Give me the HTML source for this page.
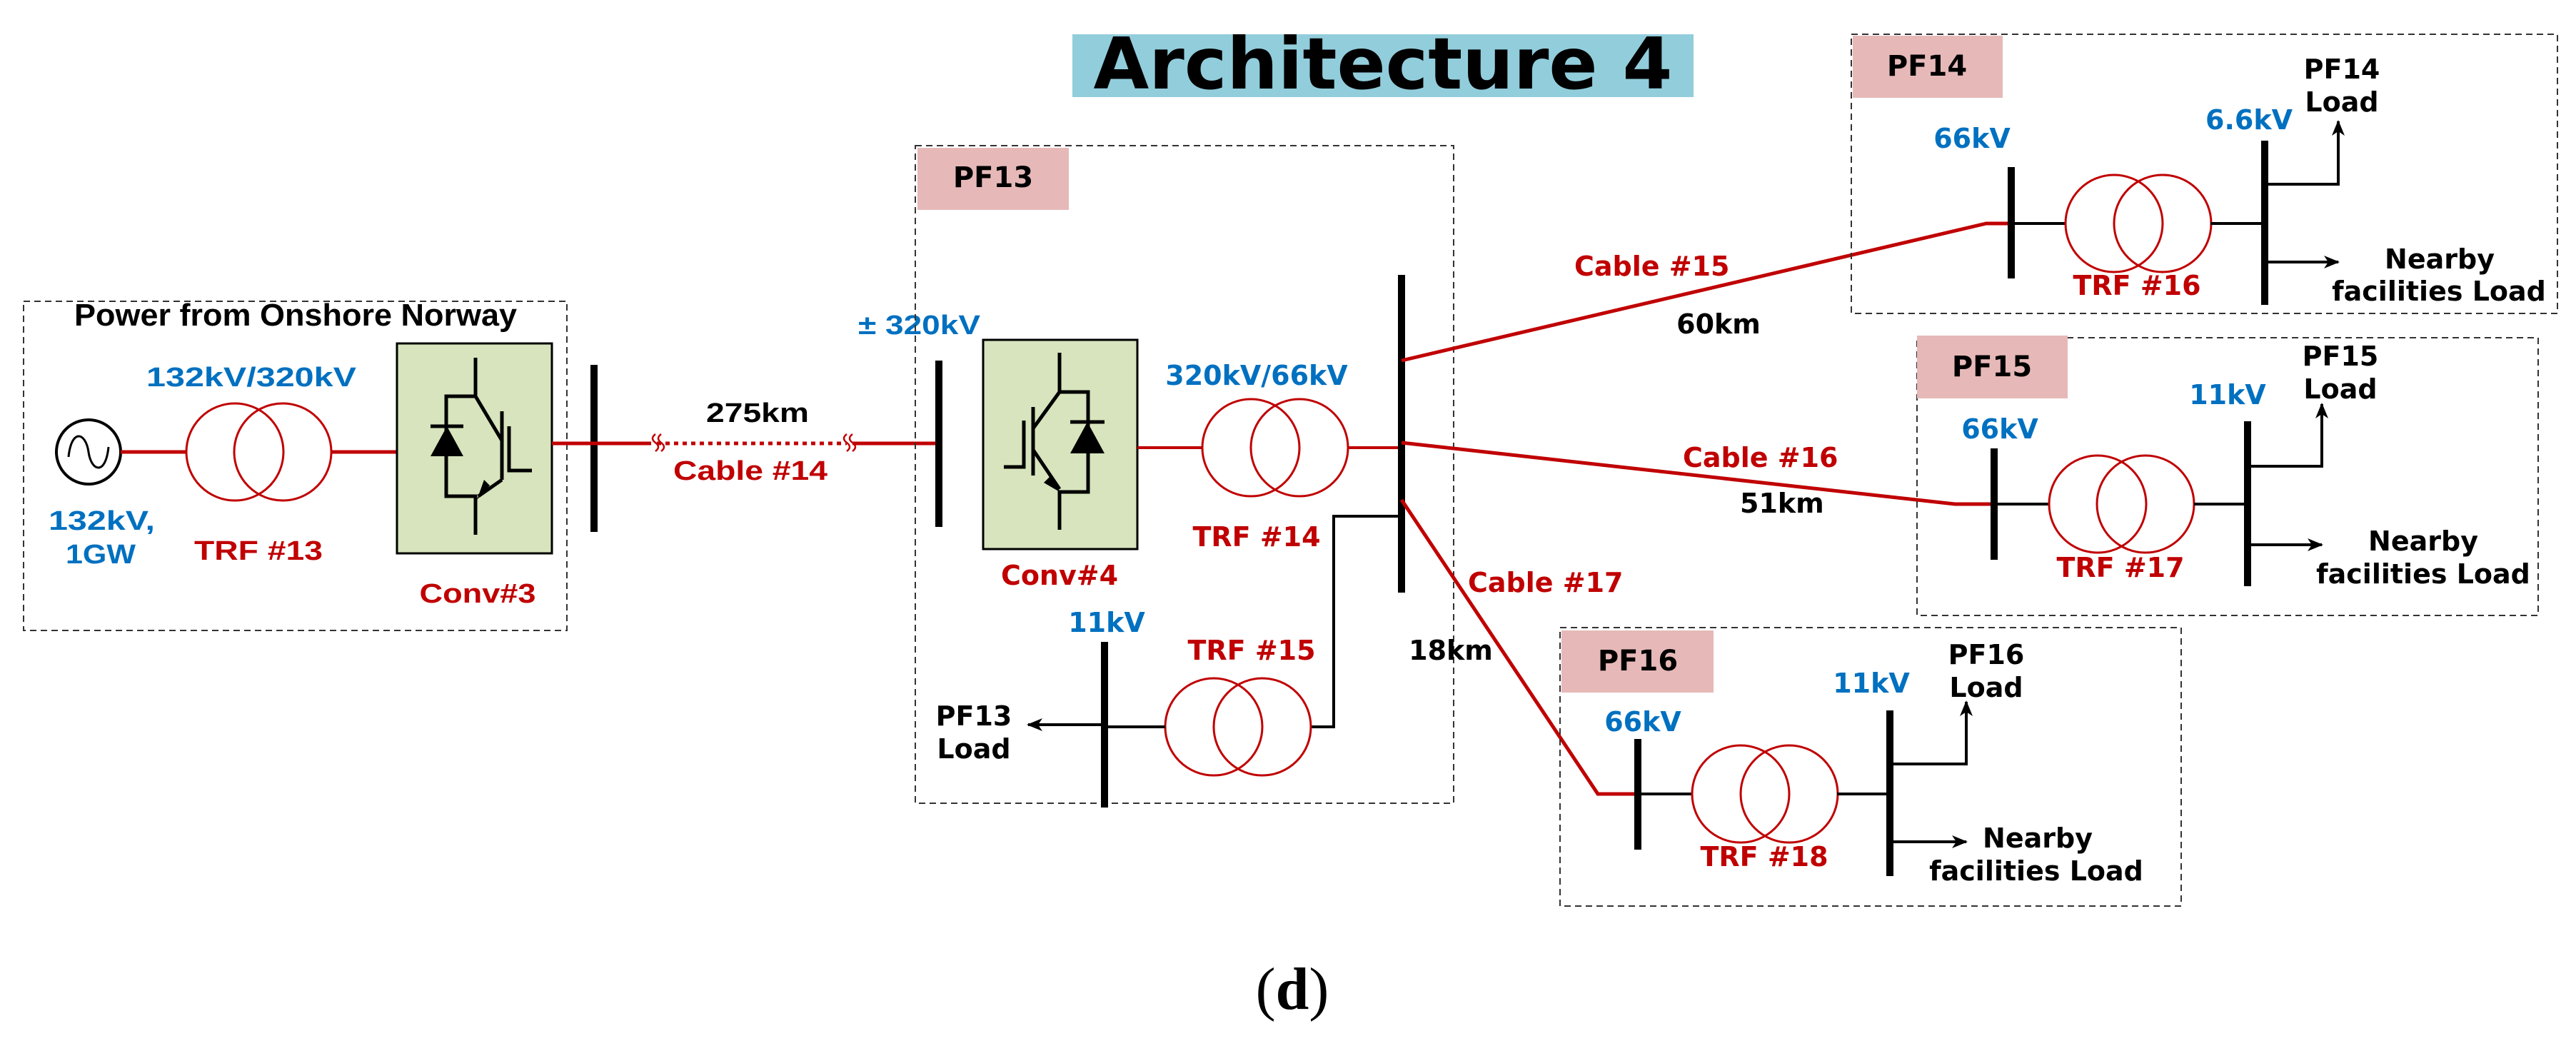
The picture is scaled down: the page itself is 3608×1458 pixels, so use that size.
<!DOCTYPE html>
<html><head><meta charset="utf-8"><style>html,body{margin:0;padding:0;background:#fff}svg{display:block}</style></head>
<body>
<svg width="3608" height="1458" viewBox="0 0 3608 1458" xmlns="http://www.w3.org/2000/svg">
<defs>
<marker id="ar" markerWidth="22" markerHeight="18" refX="20" refY="9" orient="auto" markerUnits="userSpaceOnUse">
<path d="M0,0 L22,9 L0,18 L6,9 z" fill="#000"/>
</marker>
</defs>
<style>
text{font-family:"DejaVu Sans","Liberation Sans",sans-serif;font-weight:bold}
.b{fill:#0070c0}.r{fill:#c00000}.k{fill:#000}
.t{font-family:"Liberation Sans",sans-serif}
</style>
<!-- Title -->
<rect x="1502" y="48" width="870" height="88" fill="#92cddc"/>
<text x="1937" y="124" font-size="100" text-anchor="middle" textLength="811" lengthAdjust="spacingAndGlyphs">Architecture 4</text>

<!-- Left box -->
<rect x="33" y="422" width="761" height="461" fill="none" stroke="#333" stroke-width="2" stroke-dasharray="9,6"/>
<text class="t k" x="414" y="456" font-size="44" text-anchor="middle" textLength="620" lengthAdjust="spacingAndGlyphs">Power from Onshore Norway</text>
<circle cx="124" cy="633" r="45" fill="none" stroke="#000" stroke-width="4"/>
<path d="M96,640 C100,600 120,605 124,633 C128,661 148,666 152,626" fill="none" stroke="#000" stroke-width="3"/>
<line x1="169" y1="633" x2="262" y2="633" stroke="#c00000" stroke-width="5"/>
<circle cx="329" cy="633" r="68" fill="none" stroke="#c00000" stroke-width="3"/>
<circle cx="396" cy="633" r="68" fill="none" stroke="#c00000" stroke-width="3"/>
<line x1="464" y1="633" x2="560" y2="633" stroke="#c00000" stroke-width="5"/>
<text class="t b" x="352" y="541" font-size="38" text-anchor="middle" textLength="294" lengthAdjust="spacingAndGlyphs">132kV/320kV</text>
<text class="t b" x="68" y="742" font-size="38" textLength="149" lengthAdjust="spacingAndGlyphs">132kV,</text>
<text class="t b" x="141" y="789" font-size="38" text-anchor="middle" textLength="98" lengthAdjust="spacingAndGlyphs">1GW</text>
<text class="t r" x="362" y="784" font-size="38" text-anchor="middle" textLength="180" lengthAdjust="spacingAndGlyphs">TRF #13</text>
<!-- Conv3 -->
<rect x="556" y="481" width="217" height="294" fill="#d7e4bd" stroke="#000" stroke-width="3"/>
<g stroke="#000" stroke-width="5" fill="none">
<path d="M666,501 V555 H625 V695 H666 V749"/>
<path d="M666,555 L703,617"/>
<path d="M703,672 L670,695"/>
<line x1="703" y1="576" x2="703" y2="672"/>
<path d="M713,597 V659 H745"/>
<line x1="603" y1="597" x2="649" y2="597"/>
</g>
<polygon points="603,639 649,639 626,597" fill="#000"/>
<polygon points="668,700 686,680 678,672" fill="#000"/>
<text class="t r" x="669" y="844" font-size="38" text-anchor="middle" textLength="163" lengthAdjust="spacingAndGlyphs">Conv#3</text>
<!-- bus left -->
<rect x="827" y="511" width="10" height="234" fill="#000"/>
<line x1="773" y1="621" x2="912" y2="621" stroke="#c00000" stroke-width="5"/>
<line x1="920" y1="621" x2="1186" y2="621" stroke="#c00000" stroke-width="5" stroke-dasharray="6,6"/>
<line x1="1194" y1="621" x2="1315" y2="621" stroke="#c00000" stroke-width="5"/>
<path d="M918,608 q-8,6 0,12 q8,6 0,12 M926,608 q-8,6 0,12 q8,6 0,12" fill="none" stroke="#c00000" stroke-width="2.5"/>
<path d="M1186,608 q-8,6 0,12 q8,6 0,12 M1194,608 q-8,6 0,12 q8,6 0,12" fill="none" stroke="#c00000" stroke-width="2.5"/>
<text class="t k" x="1061" y="591" font-size="38" text-anchor="middle" textLength="144" lengthAdjust="spacingAndGlyphs">275km</text>
<text class="t r" x="1051" y="672" font-size="38" text-anchor="middle" textLength="216" lengthAdjust="spacingAndGlyphs">Cable #14</text>
<text class="t b" x="1202" y="468" font-size="38" textLength="171" lengthAdjust="spacingAndGlyphs">± 320kV</text>

<!-- PF13 -->
<rect x="1282" y="204" width="754" height="921" fill="none" stroke="#333" stroke-width="2" stroke-dasharray="9,6"/>
<rect x="1285" y="207" width="212" height="87" fill="#e6b9b8"/>
<text class="k" x="1391" y="262" font-size="40" text-anchor="middle">PF13</text>
<rect x="1310" y="505" width="10" height="233" fill="#000"/>
<rect x="1377" y="476" width="216" height="293" fill="#d7e4bd" stroke="#000" stroke-width="3"/>
<g stroke="#000" stroke-width="5" fill="none">
<path d="M1484,494 V549 H1524 V689 H1484 V742"/>
<path d="M1484,549 L1447,600"/>
<path d="M1447,630 L1484,685"/>
<line x1="1447" y1="570" x2="1447" y2="666"/>
<path d="M1434,589 V654 H1406"/>
<line x1="1499" y1="591" x2="1547" y2="591"/>
</g>
<polygon points="1499,635 1547,635 1523,591" fill="#000"/>
<polygon points="1486,690 1470,668 1462,676" fill="#000"/>
<text class="r" x="1484" y="819" font-size="38" text-anchor="middle">Conv#4</text>
<line x1="1593" y1="627" x2="1684" y2="627" stroke="#c00000" stroke-width="4"/>
<circle cx="1752" cy="627" r="68" fill="none" stroke="#c00000" stroke-width="3"/>
<circle cx="1820" cy="627" r="68" fill="none" stroke="#c00000" stroke-width="3"/>
<line x1="1888" y1="627" x2="1963" y2="627" stroke="#c00000" stroke-width="4"/>
<text class="b" x="1760" y="539" font-size="38" text-anchor="middle">320kV/66kV</text>
<text class="r" x="1760" y="765" font-size="38" text-anchor="middle">TRF #14</text>
<rect x="1958" y="385" width="10" height="445" fill="#000"/>
<path d="M1963,723 H1868 V1018 H1836" fill="none" stroke="#000" stroke-width="4"/>
<circle cx="1700" cy="1018" r="68" fill="none" stroke="#c00000" stroke-width="3"/>
<circle cx="1768" cy="1018" r="68" fill="none" stroke="#c00000" stroke-width="3"/>
<line x1="1632" y1="1018" x2="1547" y2="1018" stroke="#000" stroke-width="4"/>
<rect x="1542" y="899" width="10" height="232" fill="#000"/>
<line x1="1547" y1="1015" x2="1440" y2="1015" stroke="#000" stroke-width="4" marker-end="url(#ar)"/>
<text class="k" x="1364" y="1016" font-size="38" text-anchor="middle">PF13</text>
<text class="k" x="1364" y="1062" font-size="38" text-anchor="middle">Load</text>
<text class="b" x="1550" y="885" font-size="38" text-anchor="middle">11kV</text>
<text class="r" x="1753" y="924" font-size="38" text-anchor="middle">TRF #15</text>
<text class="k" x="2032" y="924" font-size="38" text-anchor="middle">18km</text>

<!-- cables -->
<polyline points="1963,505 2782,313 2817,313" fill="none" stroke="#c00000" stroke-width="5"/>
<polyline points="1963,620 2738,706 2793,706" fill="none" stroke="#c00000" stroke-width="5"/>
<polyline points="1963,700 2238,1112 2294,1112" fill="none" stroke="#c00000" stroke-width="5"/>
<text class="r" x="2205" y="386" font-size="38">Cable #15</text>
<text class="k" x="2407" y="467" font-size="38" text-anchor="middle">60km</text>
<text class="r" x="2357" y="654" font-size="38">Cable #16</text>
<text class="k" x="2437" y="718" font-size="38">51km</text>
<text class="r" x="2056" y="829" font-size="38">Cable #17</text>

<!-- PF14 -->
<rect x="2593" y="48" width="989" height="391" fill="none" stroke="#333" stroke-width="2" stroke-dasharray="9,6"/>
<rect x="2595" y="50" width="210" height="87" fill="#e6b9b8"/>
<text class="k" x="2699" y="106" font-size="40" text-anchor="middle">PF14</text>
<rect x="2812" y="234" width="10" height="156" fill="#000"/>
<text class="b" x="2762" y="207" font-size="38" text-anchor="middle">66kV</text>
<line x1="2817" y1="313" x2="2894" y2="313" stroke="#000" stroke-width="4"/>
<circle cx="2961" cy="313" r="68" fill="none" stroke="#c00000" stroke-width="3"/>
<circle cx="3029" cy="313" r="68" fill="none" stroke="#c00000" stroke-width="3"/>
<line x1="3096" y1="313" x2="3172" y2="313" stroke="#000" stroke-width="4"/>
<rect x="3167" y="197" width="10" height="230" fill="#000"/>
<path d="M3172,258 H3275 V170" fill="none" stroke="#000" stroke-width="4" marker-end="url(#ar)"/>
<line x1="3172" y1="367" x2="3275" y2="367" stroke="#000" stroke-width="4" marker-end="url(#ar)"/>
<text class="k" x="3280" y="110" font-size="38" text-anchor="middle">PF14</text>
<text class="k" x="3280" y="156" font-size="38" text-anchor="middle">Load</text>
<text class="b" x="3150" y="181" font-size="38" text-anchor="middle">6.6kV</text>
<text class="k" x="3417" y="376" font-size="38" text-anchor="middle">Nearby</text>
<text class="k" x="3416" y="421" font-size="38" text-anchor="middle">facilities Load</text>
<text class="r" x="2993" y="413" font-size="38" text-anchor="middle">TRF #16</text>

<!-- PF15 -->
<rect x="2685" y="473" width="870" height="389" fill="none" stroke="#333" stroke-width="2" stroke-dasharray="9,6"/>
<rect x="2685" y="470" width="211" height="88" fill="#e6b9b8"/>
<text class="k" x="2790" y="527" font-size="40" text-anchor="middle">PF15</text>
<rect x="2788" y="628" width="10" height="156" fill="#000"/>
<text class="b" x="2801" y="614" font-size="38" text-anchor="middle">66kV</text>
<line x1="2793" y1="706" x2="2870" y2="706" stroke="#000" stroke-width="4"/>
<circle cx="2938" cy="706" r="68" fill="none" stroke="#c00000" stroke-width="3"/>
<circle cx="3005" cy="706" r="68" fill="none" stroke="#c00000" stroke-width="3"/>
<line x1="3073" y1="706" x2="3148" y2="706" stroke="#000" stroke-width="4"/>
<rect x="3143" y="590" width="10" height="231" fill="#000"/>
<path d="M3148,653 H3252 V566" fill="none" stroke="#000" stroke-width="4" marker-end="url(#ar)"/>
<line x1="3148" y1="763" x2="3252" y2="763" stroke="#000" stroke-width="4" marker-end="url(#ar)"/>
<text class="k" x="3278" y="512" font-size="38" text-anchor="middle">PF15</text>
<text class="k" x="3278" y="558" font-size="38" text-anchor="middle">Load</text>
<text class="b" x="3120" y="566" font-size="38" text-anchor="middle">11kV</text>
<text class="k" x="3394" y="771" font-size="38" text-anchor="middle">Nearby</text>
<text class="k" x="3394" y="817" font-size="38" text-anchor="middle">facilities Load</text>
<text class="r" x="2970" y="808" font-size="38" text-anchor="middle">TRF #17</text>

<!-- PF16 -->
<rect x="2185" y="879" width="870" height="390" fill="none" stroke="#333" stroke-width="2" stroke-dasharray="9,6"/>
<rect x="2187" y="883" width="213" height="87" fill="#e6b9b8"/>
<text class="k" x="2294" y="939" font-size="40" text-anchor="middle">PF16</text>
<rect x="2289" y="1035" width="10" height="155" fill="#000"/>
<text class="b" x="2301" y="1024" font-size="38" text-anchor="middle">66kV</text>
<line x1="2294" y1="1112" x2="2370" y2="1112" stroke="#000" stroke-width="4"/>
<circle cx="2438" cy="1112" r="68" fill="none" stroke="#c00000" stroke-width="3"/>
<circle cx="2506" cy="1112" r="68" fill="none" stroke="#c00000" stroke-width="3"/>
<line x1="2573" y1="1112" x2="2647" y2="1112" stroke="#000" stroke-width="4"/>
<rect x="2642" y="995" width="10" height="232" fill="#000"/>
<path d="M2647,1070 H2754 V983" fill="none" stroke="#000" stroke-width="4" marker-end="url(#ar)"/>
<line x1="2647" y1="1179" x2="2754" y2="1179" stroke="#000" stroke-width="4" marker-end="url(#ar)"/>
<text class="k" x="2782" y="930" font-size="38" text-anchor="middle">PF16</text>
<text class="k" x="2782" y="976" font-size="38" text-anchor="middle">Load</text>
<text class="b" x="2621" y="970" font-size="38" text-anchor="middle">11kV</text>
<text class="k" x="2854" y="1187" font-size="38" text-anchor="middle">Nearby</text>
<text class="k" x="2852" y="1233" font-size="38" text-anchor="middle">facilities Load</text>
<text class="r" x="2471" y="1213" font-size="38" text-anchor="middle">TRF #18</text>

<text x="1810" y="1413" font-size="84" text-anchor="middle" style="font-family:'Liberation Serif',serif;font-weight:normal">(<tspan font-weight="bold">d</tspan>)</text>
</svg>
</body></html>
